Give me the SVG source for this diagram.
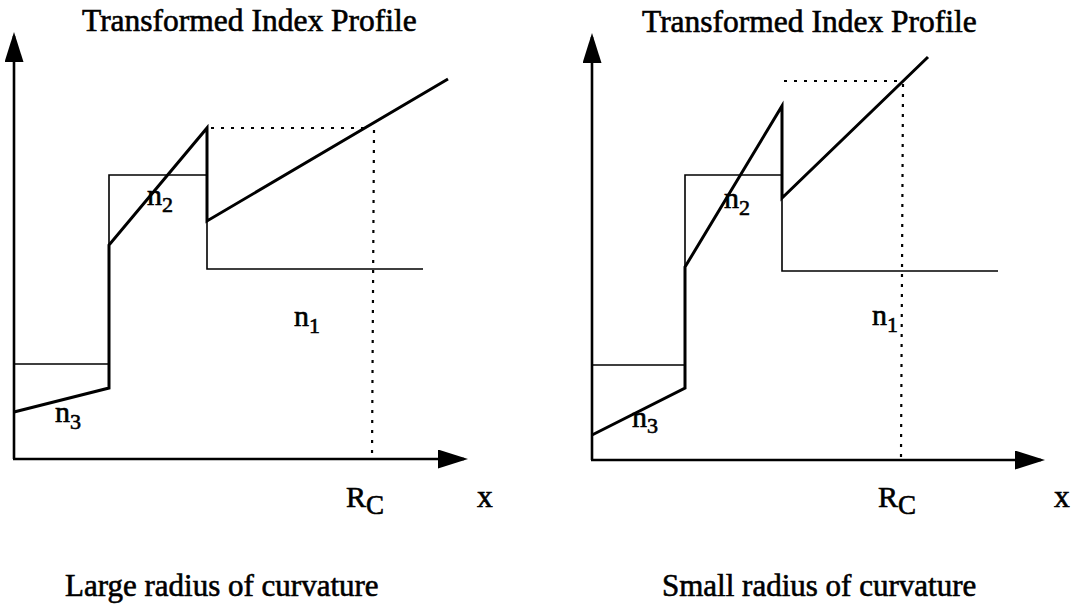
<svg xmlns="http://www.w3.org/2000/svg" width="1073" height="608" viewBox="0 0 1073 608">
<style>
text{font-family:"Liberation Serif","Times New Roman",serif;fill:#000;stroke:#000;stroke-width:0.6}
.t{font-size:31.5px}
.c{font-size:31px}
.lab{font-size:30px}
.sub{font-size:22px}
.axis{stroke:#000;stroke-width:2.6;fill:none}
.thin{stroke:#000;stroke-width:1.6;fill:none}
.thick{stroke:#000;stroke-width:3;fill:none;stroke-linejoin:miter}
.dot{stroke:#000;stroke-width:2.2;fill:none;stroke-dasharray:3 7}
</style>
<defs>
<marker id="ah" markerUnits="userSpaceOnUse" markerWidth="30" markerHeight="19" refX="26" refY="9.5" orient="auto" viewBox="0 0 30 19">
<path d="M0,0 L30,9.5 L0,19 z" fill="#000"/>
</marker>
</defs>
<g id="left-panel">
<text class="t" x="82" y="31">Transformed Index Profile</text>
<g id="left-axes">
<line class="axis" x1="14" y1="459" x2="14" y2="36" marker-end="url(#ah)"/>
<line class="axis" x1="13" y1="459" x2="464" y2="459" marker-end="url(#ah)"/>
</g>
<g id="left-step">
<polyline class="thin" points="14,364 109,364 109,175 207,175 207,269 423,269"/>
</g>
<g id="left-transformed">
<polyline class="thick" points="14,412 109,388 109,245 207,128 207,221 448,79"/>
</g>
<g id="left-dotted">
<line class="dot" x1="211" y1="128" x2="369" y2="128"/>
<line class="dot" x1="374" y1="130" x2="372" y2="458"/>
</g>
<text class="lab" x="147" y="205">n<tspan class="sub" dy="7">2</tspan></text>
<text class="lab" x="294" y="326">n<tspan class="sub" dy="7">1</tspan></text>
<text class="lab" x="55" y="422">n<tspan class="sub" dy="7">3</tspan></text>
<text class="lab" x="346" y="507">R<tspan style="font-size:27px" dy="7">C</tspan></text>
<text class="t" x="477" y="507">x</text>
<text class="c" x="65" y="596">Large radius of curvature</text>
</g>
<g id="right-panel">
<text class="t" x="642" y="32">Transformed Index Profile</text>
<g id="right-axes">
<line class="axis" x1="592" y1="460" x2="592" y2="37" marker-end="url(#ah)"/>
<line class="axis" x1="591" y1="460" x2="1041" y2="460" marker-end="url(#ah)"/>
</g>
<g id="right-step">
<polyline class="thin" points="592,365 685,365 685,175 782,175 782,271 998,271"/>
</g>
<g id="right-transformed">
<polyline class="thick" points="592,435 685,388 685,267 782,106 782,198 928,57"/>
</g>
<g id="right-dotted">
<line class="dot" x1="784" y1="81" x2="902" y2="81"/>
<line class="dot" x1="903" y1="84" x2="901" y2="458"/>
</g>
<text class="lab" x="724" y="208">n<tspan class="sub" dy="7">2</tspan></text>
<text class="lab" x="872" y="325">n<tspan class="sub" dy="7">1</tspan></text>
<text class="lab" x="632" y="427">n<tspan class="sub" dy="6">3</tspan></text>
<text class="lab" x="878" y="507">R<tspan style="font-size:27px" dy="7">C</tspan></text>
<text class="t" x="1054" y="507">x</text>
<text class="c" x="662" y="596">Small radius of curvature</text>
</g>
</svg>
